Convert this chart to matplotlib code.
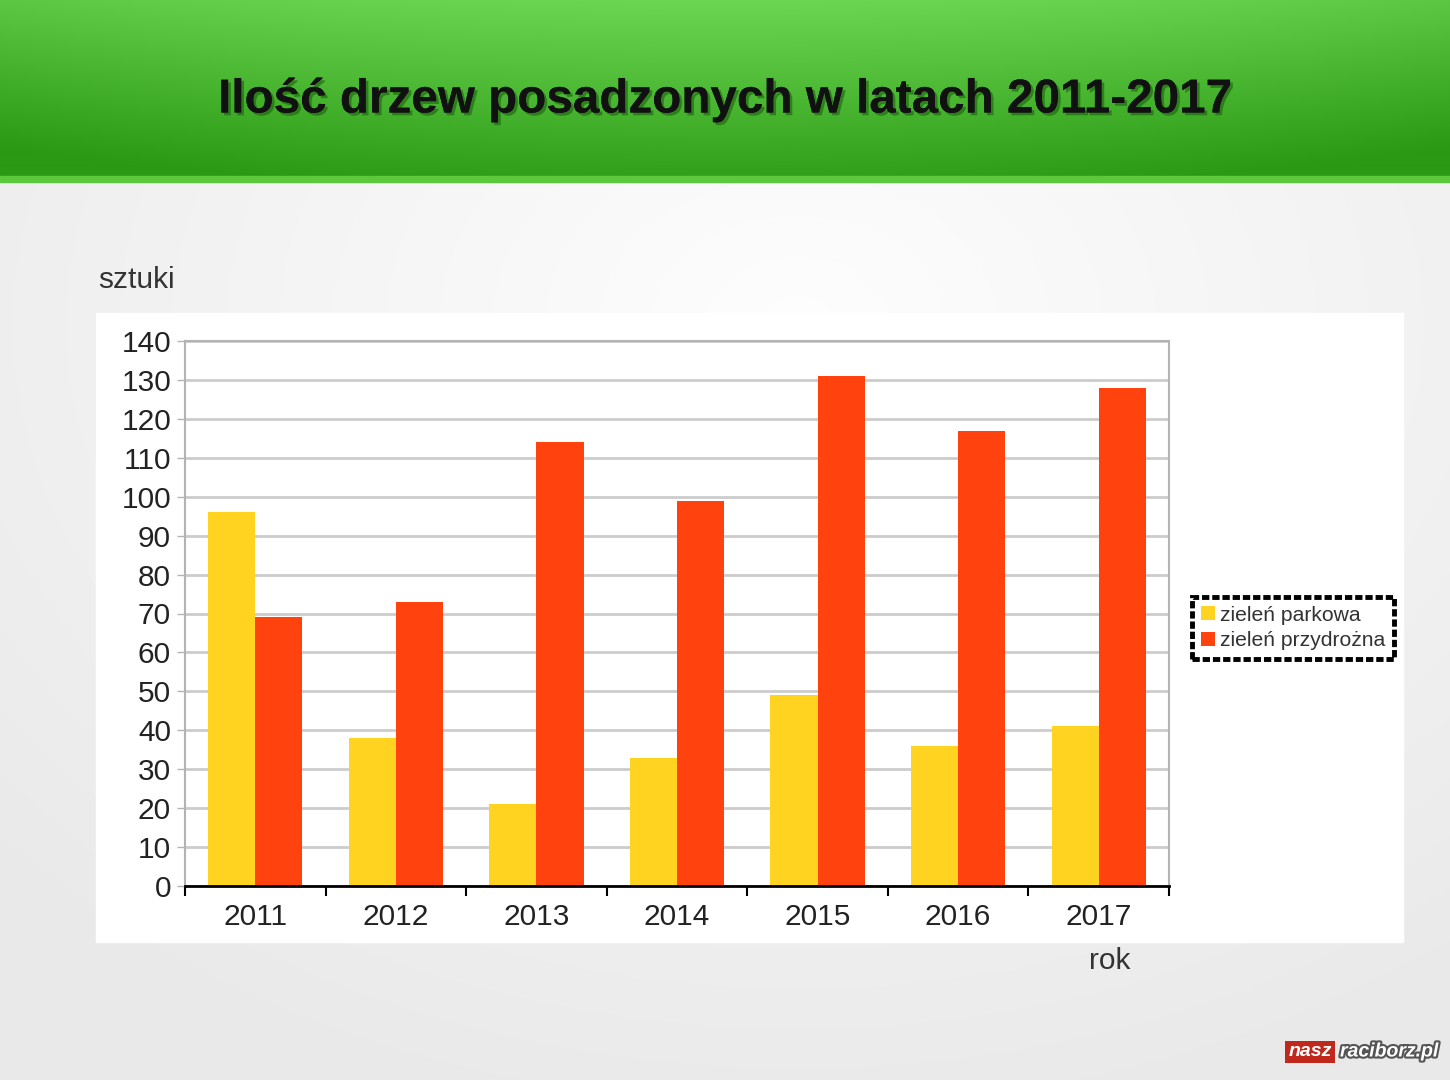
import matplotlib.pyplot as plt
import matplotlib.patheffects as pe
import numpy as np
from matplotlib.patches import Rectangle

plt.rcParams["font.family"] = ["Liberation Sans", "DejaVu Sans"]

years = ["2011", "2012", "2013", "2014", "2015", "2016", "2017"]
parkowa = [96, 38, 21, 33, 49, 36, 41]
przydrozna = [69, 73, 114, 99, 131, 117, 128]
series_labels = ["zieleń parkowa", "zieleń przydrożna"]
y_ticks = list(range(0, 141, 10))

W, H = 1450, 1080
fig = plt.figure(figsize=(W / 100, H / 100), dpi=100)

# background: light grey radial gradient
bg = fig.add_axes([0, 0, 1, 1], zorder=-10)
yy, xx = np.mgrid[0:H, 0:W]
r = np.sqrt(((xx - W * 0.55) / W) ** 2 + ((yy - H * 0.3) / H) ** 2)
shade = 0.995 - 0.08 * np.clip(r / 0.75, 0, 1)
bg.imshow(np.dstack([shade] * 3), extent=[0, W, H, 0], aspect="auto")

# green banner gradient
gy = np.linspace(0, 1, 180)[:, None]
gx = np.linspace(-1, 1, W)[None, :]
top = np.array([0.42, 0.84, 0.32])
bot = np.array([0.17, 0.60, 0.08])
mix = (gy * 0.9 + 0.25 * gx ** 2)[..., None].clip(0, 1)
green = top * (1 - mix) + bot * mix
bg.imshow(green, extent=[0, W, 178, 0], aspect="auto")
bg.add_patch(Rectangle((0, 176), W, 6, color="#5cc83c"))
bg.set_xlim(0, W)
bg.set_ylim(H, 0)
bg.axis("off")

# white chart panel
bg.add_patch(Rectangle((96, 313), 1307, 629, color="white", zorder=2))

fig.text(0.5, 1 - 100 / H, "Ilość drzew posadzonych w latach 2011-2017",
         ha="center", va="center", fontsize=34.3, fontweight="bold", color="#111111",
         path_effects=[pe.withSimplePatchShadow(offset=(2, -2), shadow_rgbFace="#1c5e10", alpha=0.6), pe.Normal()])

fig.text(98 / W, 1 - 280 / H, "sztuki", ha="left", va="center", fontsize=21.5, color="#333333")
fig.text(1110 / W, 1 - 961 / H, "rok", ha="center", va="center", fontsize=21.5, color="#333333")

ax = fig.add_axes([185 / W, 1 - 886 / H, 984 / W, 545 / H])
x = np.arange(len(years))
bw = 0.335
ax.bar(x - bw / 2, parkowa, bw, color="#ffd320", label=series_labels[0], zorder=3)
ax.bar(x + bw / 2, przydrozna, bw, color="#ff420e", label=series_labels[1], zorder=3)

ax.set_xlim(-0.5, len(years) - 0.5)
ax.set_ylim(0, 140)
ax.set_yticks(y_ticks)
ax.set_yticklabels([str(v) for v in y_ticks], fontsize=21.5, color="#222222")
ax.set_xticks(x)
ax.set_xticklabels(years, fontsize=21.5, color="#222222")
ax.set_xticks(np.arange(-0.5, len(years)), minor=True)
ax.tick_params(axis="x", which="major", length=0, pad=12)
ax.tick_params(axis="x", which="minor", length=7, width=1.5, color="black", direction="out")
ax.tick_params(axis="y", length=6, width=1, color="#b3b3b3", pad=4)
ax.yaxis.grid(True, color="#cccccc", linewidth=2, zorder=0)
ax.set_axisbelow(True)
for s in ["top", "right", "left"]:
    ax.spines[s].set_color("#b3b3b3")
    ax.spines[s].set_linewidth(1.5)
ax.spines["bottom"].set_color("black")
ax.spines["bottom"].set_linewidth(2)
ax.spines["bottom"].set_zorder(4)

leg = fig.legend(loc="center", bbox_to_anchor=(1293 / W, 1 - 628 / H), fontsize=15.2,
                 frameon=True, fancybox=False, framealpha=1, handlelength=0.65, handleheight=0.65,
                 handletextpad=0.25, borderpad=0.4, labelspacing=0.3, borderaxespad=0)
frame = leg.get_frame()
frame.set_edgecolor("black")
frame.set_linewidth(3.5)
frame.set_linestyle((0, (1.5, 0.6)))
for t in leg.get_texts():
    t.set_color("#333333")

# watermark
fig.text(1310 / W, 1 - 1052 / H, "nasz", ha="center", va="center", fontsize=14,
         fontweight="bold", style="italic", color="white",
         bbox=dict(boxstyle="square,pad=0.15", fc="#c0281c", ec="none"))
fig.text(1340 / W, 1 - 1052 / H, "raciborz.pl", ha="left", va="center", fontsize=14,
         fontweight="bold", style="italic", color="white",
         path_effects=[pe.withStroke(linewidth=3, foreground="#555555")])

fig.savefig("out.png", dpi=100)
